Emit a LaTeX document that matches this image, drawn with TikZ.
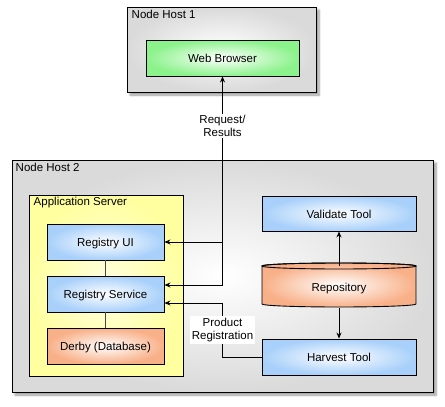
\documentclass[tikz,border=0pt]{standalone}
\usepackage{fontspec}
\setmainfont{Liberation Sans}
\usetikzlibrary{arrows.meta,shadows.blur}
\definecolor{hostgray}{RGB}{218,218,218}
\definecolor{toolblue}{RGB}{168,208,250}
\definecolor{webgreen}{RGB}{140,242,140}
\definecolor{dbsalmon}{RGB}{248,176,136}
\definecolor{appyellow}{RGB}{255,255,160}

\begin{document}
\begin{tikzpicture}[x=1pt,y=-1pt,
  font=\fontsize{11.5}{13.5}\selectfont,
  every node/.style={inner sep=0pt},
  host/.style={draw,line width=1pt,inner color=white,outer color=hostgray,
    blur shadow={shadow xshift=3pt,shadow yshift=-3pt,shadow blur steps=8}},
  comp/.style={draw,line width=0.9pt,inner color=white,outer color=#1,
    minimum width=154pt,minimum height=36pt,text height=9.5pt,text depth=0pt},
  link/.style={line width=0.8pt,-{Stealth[length=6pt,width=5pt]}},
  tag/.style={fill=white,align=center,inner sep=1.5pt}]
\useasboundingbox (0,0) rectangle (445,407);

% hosts
\node[host,minimum width=189pt,minimum height=85pt] (host1) at (221.5,49.5) {};
\node[anchor=north west] (host1title) at ([shift={(5pt,-3pt)}]host1.north west) {Node Host 1};
\node[host,minimum width=421pt,minimum height=232pt] (host2) at (222.5,276) {};
\node[anchor=north west] (host2title) at ([shift={(4pt,-3pt)}]host2.north west) {Node Host 2};

% application server
\node[draw,line width=0.9pt,inner color=appyellow!35,outer color=appyellow,
  minimum width=154pt,minimum height=181pt] (appserver) at (106,285.5) {};
\node[anchor=north west] (apptitle) at ([shift={(5pt,-2pt)}]appserver.north west) {Application Server};

\node[comp=webgreen,minimum width=153pt] (browser) at (222.5,58) {Web Browser};
\node[comp=toolblue,minimum width=117pt] (regui) at (105.5,242) {Registry UI};
\node[comp=toolblue,minimum width=117pt] (regsvc) at (105.5,294) {Registry Service};
\node[comp=dbsalmon,minimum width=117pt] (derby) at (105.5,346) {Derby (Database)};
\node[comp=toolblue,minimum height=35pt] (validate) at (339,213.5) {Validate Tool};
\node[comp=toolblue] (harvest) at (339,357) {Harvest Tool};

% repository cylinder
\shade[draw,line width=0.9pt,inner color=white,outer color=dbsalmon]
  (262,266) -- (262,304) arc[start angle=180,end angle=0,x radius=77,y radius=3]
  -- (416,266) arc[start angle=0,end angle=-180,x radius=77,y radius=3] -- cycle;
\draw[line width=0.9pt] (339,266) ellipse[x radius=77,y radius=3];
\node[minimum width=154pt,minimum height=42pt,text height=9.5pt,text depth=0pt] (repo) at (339,287) {Repository};

% connectors
\draw[gray!55!black,line width=1.6pt] (regui) -- (regsvc) (regsvc) -- (derby);
\draw[link] (repo.north) -- (validate.south);
\draw[link] (repo.south) -- (harvest.north);
\draw[link,{Stealth[length=6pt,width=5pt]}-{Stealth[length=6pt,width=5pt]}]
  ([yshift=9pt]regsvc.east) -| (browser.south);
\draw[link] (browser.south |- regui.east) -- (regui.east);
\draw[link] (harvest.west) -- ++(-39,0) |- ([yshift=-9pt]regsvc.east);

\node[tag] (reqlabel) at (222.5,126) {Request/\\Results};
\node[tag] (prodlabel) at (222.5,330) {Product\\Registration};
\end{tikzpicture}
\end{document}
